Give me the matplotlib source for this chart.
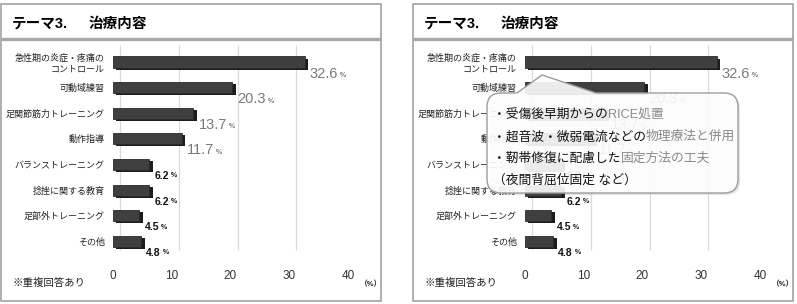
import matplotlib
matplotlib.use('Agg')
import matplotlib.pyplot as plt
import matplotlib.patheffects as pe
import matplotlib.transforms as mtransforms
from matplotlib.path import Path
from matplotlib.patches import PathPatch, Rectangle

plt.rcParams['font.family'] = ['Liberation Sans', 'Noto Sans CJK JP', 'DejaVu Sans']

# ── data ──────────────────────────────────────────────────────────────
categories = ['急性期の炎症・疼痛の\nコントロール', '可動域練習', '足関節筋力トレーニング',
              '動作指導', 'バランストレーニング', '捻挫に関する教育',
              '足部外トレーニング', 'その他']
values = [32.6, 20.3, 13.7, 11.7, 6.2, 6.2, 4.5, 4.8]
x_ticks = [0, 10, 20, 30, 40]
title_num = 'テーマ3.'
title_text = '治療内容'
note = '※重複回答あり'
unit = '（%）'
callout_lines = [('・受傷後早期からの', 'RICE処置'),
                 ('・超音波・微弱電流などの', '物理療法と併用'),
                 ('・靭帯修復に配慮した', '固定方法の工夫'),
                 ('（夜間背屈位固定 など）', '')]

W, H = 797, 304
fig = plt.figure(figsize=(W / 100, H / 100), dpi=100)
fig.patch.set_facecolor('white')

# overlay axes in pixel coordinates for frames / titles / callout
over = fig.add_axes([0, 0, 1, 1], zorder=10)
over.set_xlim(0, W)
over.set_ylim(H, 0)
over.axis('off')
over.patch.set_alpha(0)


def px_axes(x0, y0, x1, y1):
    return fig.add_axes([x0 / W, 1 - y1 / H, (x1 - x0) / W, (y1 - y0) / H])


def draw_panel(dx):
    # frame + title strip
    over.add_patch(Rectangle((1 + dx, 4), 380, 297, fill=False, ec='#9a9a9a', lw=1.1))
    over.plot([1 + dx, 381 + dx], [38.5, 38.5], color='#a8a8a8', lw=2.4,
              solid_capstyle='butt')
    over.text(12 + dx, 24, title_num, fontsize=10.5, fontweight='bold', va='center')
    over.text(89 + dx, 24, title_text, fontsize=10.5, fontweight='bold', va='center')
    over.text(13 + dx, 283, note, fontsize=7.5, va='center', color='#222')
    over.text(371 + dx, 285, unit, fontsize=5.5, va='center', ha='center',
              color='#222', fontweight='bold')

    ax = px_axes(113 + dx, 45, 348 + dx, 262)
    ax.set_xlim(0, 40)
    ax.set_ylim(7.81, -0.664)
    ax.patch.set_alpha(0)
    for s in ax.spines.values():
        s.set_visible(False)

    # gridlines, shifted to the back wall of the 3D chart
    shift = mtransforms.offset_copy(ax.transData, fig=fig, x=7, y=0, units='dots')
    ax.vlines(x_ticks, -0.664, 7.34, colors='#dadada', lw=0.9, transform=shift, zorder=0)

    ypos = list(range(len(categories)))
    ax.barh(ypos, values, height=0.43, color='#3f3f3f', edgecolor='#2a2a2a', lw=0.6,
            zorder=3,
            path_effects=[pe.SimplePatchShadow(offset=(2.5, -1.5),
                                               shadow_rgbFace='#1c1c1c', alpha=1),
                          pe.Normal()])

    ax.set_yticks(ypos)
    ax.set_yticklabels(categories, fontsize=6.5, color='#222', linespacing=1.25)
    ax.set_xticks(x_ticks)
    ax.set_xticklabels([str(t) for t in x_ticks], fontsize=8.5, color='#333')
    ax.tick_params(length=0, axis='y', pad=6)
    ax.tick_params(length=0, axis='x', pad=6)

    for y, v in zip(ypos, values):
        big = v >= 10
        t = ax.annotate(f'{v:.1f}', xy=(v, y), xytext=(5, -11.5),
                        textcoords='offset pixels', ha='left', va='center',
                        fontsize=10.5 if big else 7.5,
                        fontweight='normal' if big else 'bold',
                        color='#7a7a7a' if big else '#111', zorder=4)
        ax.annotate('%', xy=(1, 0), xycoords=t, xytext=(2, 1.5),
                    textcoords='offset pixels', ha='left', va='bottom',
                    fontsize=5, fontweight='bold',
                    color='#7a7a7a' if big else '#111')
    return ax


draw_panel(0)
draw_panel(412)

# ── callout on the right panel ────────────────────────────────────────
x0, x1, y0, y1, r = 487, 738, 93, 193, 14
verts = [(x0 + r, y0), (517, y0), (542, 75), (596, y0), (x1 - r, y0),
         (x1, y0), (x1, y0 + r), (x1, y1 - r), (x1, y1), (x1 - r, y1),
         (x0 + r, y1), (x0, y1), (x0, y1 - r), (x0, y0 + r), (x0, y0),
         (x0 + r, y0), (x0 + r, y0)]
codes = [Path.MOVETO, Path.LINETO, Path.LINETO, Path.LINETO, Path.LINETO,
         Path.CURVE3, Path.CURVE3, Path.LINETO, Path.CURVE3, Path.CURVE3,
         Path.LINETO, Path.CURVE3, Path.CURVE3, Path.LINETO, Path.CURVE3,
         Path.CURVE3, Path.CLOSEPOLY]
callout = PathPatch(Path(verts, codes), facecolor=(1, 1, 1, 0.9), edgecolor='#9c9c9c',
                    lw=1.0,
                    path_effects=[pe.SimplePatchShadow(offset=(1.5, -1.5), alpha=0.15),
                                  pe.Normal()])
over.add_patch(callout)

for (plain, hl), ly in zip(callout_lines, [115, 137, 159, 181]):
    t = over.text(493, ly, plain, fontsize=9.2, color='#111', va='center', ha='left')
    if hl:
        over.annotate(hl, xy=(1, 0), xycoords=t, ha='left', va='bottom',
                      fontsize=9.2, color='#8a8a8a')

fig.savefig('out.png', dpi=100, facecolor='white')
